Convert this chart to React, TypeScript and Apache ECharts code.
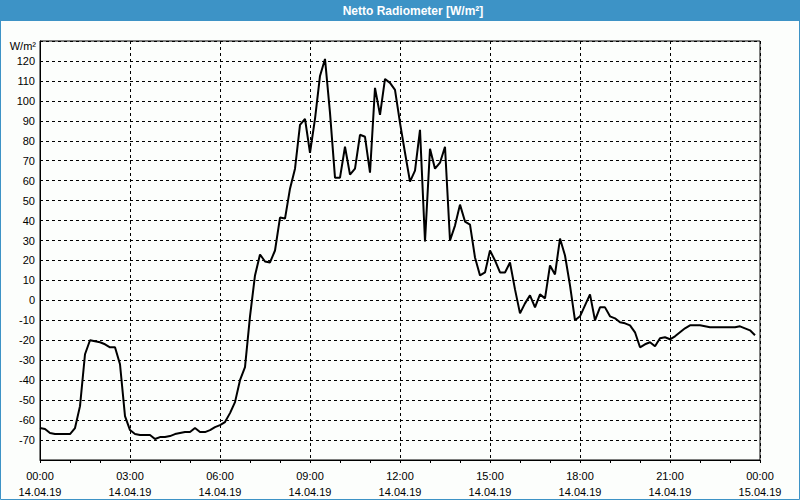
import React, { useEffect, useRef } from "react";
import * as echarts from "echarts";

const TITLE = "Netto Radiometer [W/m²]";
const UNIT = "W/m²";

const times: string[] = [
  "00:00","00:10","00:20","00:30","00:40","00:50",
  "01:00","01:10","01:20","01:30","01:40","01:50",
  "02:00","02:10","02:20","02:30","02:40","02:50",
  "03:00","03:10","03:20","03:30","03:40","03:50",
  "04:00","04:10","04:20","04:30","04:40","04:50",
  "05:00","05:10","05:20","05:30","05:40","05:50",
  "06:00","06:10","06:20","06:30","06:40","06:50",
  "07:00","07:10","07:20","07:30","07:40","07:50",
  "08:00","08:10","08:20","08:30","08:40","08:50",
  "09:00","09:10","09:20","09:30","09:40","09:50",
  "10:00","10:10","10:20","10:30","10:40","10:50",
  "11:00","11:10","11:20","11:30","11:40","11:50",
  "12:00","12:10","12:20","12:30","12:40","12:50",
  "13:00","13:10","13:20","13:30","13:40","13:50",
  "14:00","14:10","14:20","14:30","14:40","14:50",
  "15:00","15:10","15:20","15:30","15:40","15:50",
  "16:00","16:10","16:20","16:30","16:40","16:50",
  "17:00","17:10","17:20","17:30","17:40","17:50",
  "18:00","18:10","18:20","18:30","18:40","18:50",
  "19:00","19:10","19:20","19:30","19:40","19:50",
  "20:00","20:10","20:20","20:30","20:40","20:50",
  "21:00","21:10","21:20","21:30","21:40","21:50",
  "22:00","22:10","22:20","22:30","22:40","22:50",
  "23:00","23:10","23:20","23:30","23:40","23:50",
];

const values: number[] = [
  -64, -64.5, -66.5, -67, -67, -67,
  -67, -64, -53, -27, -20, -20.5,
  -21, -22, -23.5, -23.5, -32, -58,
  -65, -67, -67.5, -67.5, -67.5, -69.5,
  -68.5, -68.5, -68, -67, -66.5, -66,
  -66, -64, -66, -66, -65, -63.5,
  -62.5, -61, -56.5, -51, -40, -33.5,
  -8, 12.5, 23, 19.5, 19, 25,
  41.5, 41, 56, 66, 88, 91,
  74, 91, 112.5, 121, 94, 61.5,
  61.5, 77, 63, 66, 83, 82,
  64, 106.5, 93, 111, 109, 105.5,
  89, 74, 59.5, 65, 85.5, 29.5,
  76, 66, 69, 77, 30, 37.5,
  48, 39.5, 38, 21.5, 12.5, 14,
  25, 20, 14, 14, 19, 5.5,
  -6.5, -1.5, 2.5, -3.5, 3, 1,
  17.5, 13, 31, 22.5, 7.5, -10,
  -8, -2.5, 3, -10, -3.5, -3.5,
  -8, -9, -11, -11.5, -12.5, -16,
  -23.5, -22, -21, -23, -19, -18.5,
  -19.5, -18, -16, -14, -12.5, -12.5,
  -12.5, -13, -13.5, -13.5, -13.5, -13.5,
  -13.5, -13.5, -13, -14, -15, -17.5,
];

const xTickHours: number[] = [0, 3, 6, 9, 12, 15, 18, 21, 24];
const xTickLabels: string[] = [
  "00:00\n14.04.19", "03:00\n14.04.19", "06:00\n14.04.19", "09:00\n14.04.19",
  "12:00\n14.04.19", "15:00\n14.04.19", "18:00\n14.04.19", "21:00\n14.04.19",
  "00:00\n15.04.19",
];

const toHours = (t: string) => {
  const [h, m] = t.split(":").map(Number);
  return h + m / 60;
};

export default function App() {
  const ref = useRef<HTMLDivElement>(null);
  useEffect(() => {
    if (!ref.current) return;
    const chart = echarts.init(ref.current, undefined, { renderer: "svg" });
    const font = "Liberation Sans";
    const data = times.map((t, i) => [toHours(t), values[i]]);
    chart.setOption({
      animation: false,
      backgroundColor: "#fcfefc",
      textStyle: { fontFamily: font },
      graphic: [
        { type: "rect", shape: { x: 0, y: 0, width: 800, height: 21 }, style: { fill: "#3d93c6" }, z: 0 },
        { type: "rect", shape: { x: 0.5, y: 0.5, width: 799, height: 499 }, style: { fill: "none", stroke: "#3d93c6", lineWidth: 1 }, z: 0 },
        {
          type: "text", x: 413, y: 11,
          style: { text: TITLE, fill: "#ffffff", font: `bold 12px '${font}'`, textAlign: "center", textVerticalAlign: "middle" },
          z: 10,
        },
        {
          type: "text", x: 36, y: 46,
          style: { text: UNIT, fill: "#000", font: `11px '${font}'`, textAlign: "right", textVerticalAlign: "middle" },
          z: 10,
        },
      ],
      grid: {
        left: 40, top: 41, width: 720, height: 420,
        show: true, borderColor: "#000", borderWidth: 1, backgroundColor: "transparent",
      },
      xAxis: {
        type: "value", min: 0, max: 24, interval: 3,
        axisLine: { show: true, onZero: false, lineStyle: { color: "#000", width: 1 } },
        axisTick: { show: true, length: 3, lineStyle: { color: "#000" } },
        minorTick: { show: true, splitNumber: 3, length: 3, lineStyle: { color: "#000" } },
        splitLine: { show: true, lineStyle: { color: "#000", type: [3, 3], width: 1 } },
        axisLabel: {
          margin: 8, color: "#000", fontSize: 11, fontFamily: font, lineHeight: 16,
          showMaxLabel: true, showMinLabel: true,
          formatter: (v: number) => {
            const i = xTickHours.indexOf(v);
            return i >= 0 ? xTickLabels[i] : "";
          },
        },
      },
      yAxis: {
        type: "value", min: -80, max: 130, interval: 10,
        axisLine: { show: true, onZero: false, lineStyle: { color: "#000" } },
        axisTick: { show: false },
        splitLine: { show: true, lineStyle: { color: "#000", type: [3, 3], width: 1 } },
        axisLabel: {
          margin: 5, color: "#000", fontSize: 11, fontFamily: font,
          formatter: (v: number) => (v <= -80 || v >= 130 ? "" : String(v)),
        },
      },
      series: [
        {
          type: "line", data, showSymbol: false, symbol: "none",
          lineStyle: { color: "#000", width: 2 },
          z: 5,
        },
      ],
    });
    return () => chart.dispose();
  }, []);
  return <div ref={ref} style={{ position: "fixed", left: 0, top: 0, width: 800, height: 500 }} />;
}
